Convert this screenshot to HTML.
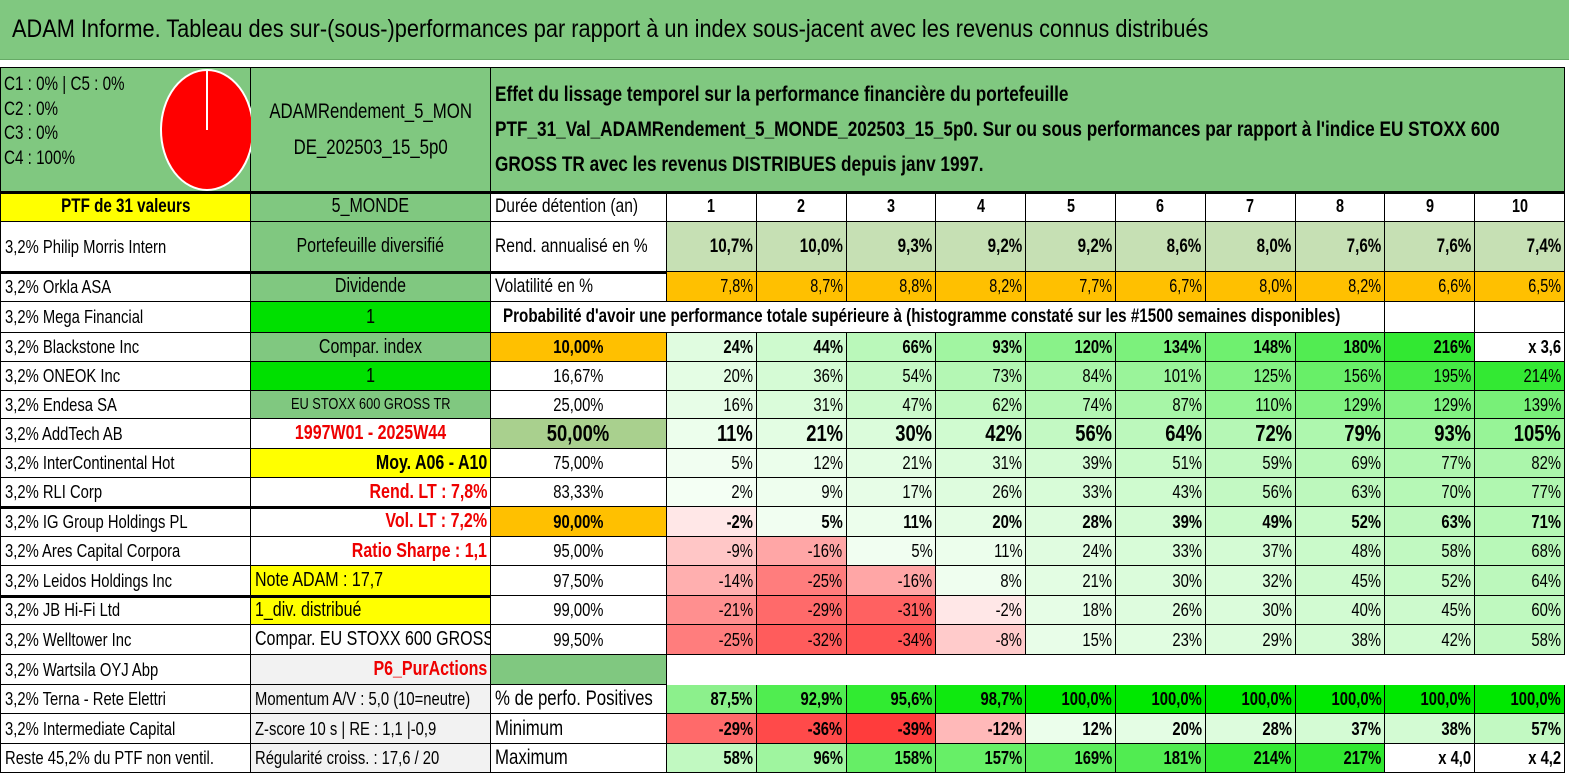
<!DOCTYPE html>
<html><head><meta charset="utf-8">
<style>
body{margin:0;width:1569px;height:782px;overflow:hidden;background:#fff;font-family:"Liberation Sans",sans-serif;position:relative}
.c{position:absolute;box-sizing:border-box;display:flex;align-items:center;white-space:nowrap;overflow:hidden;color:#000;font-size:15px}
.c span{display:inline-block;transform:scaleX(.8)}
.b{border-right:1px solid #000;border-bottom:1px solid #000}
.r{justify-content:flex-end;padding-right:3px}
.r span{transform-origin:right center}
.m{justify-content:center}
.m span{transform-origin:center center}
.l{justify-content:flex-start;padding-left:4px}
.l span{transform-origin:left center}
</style></head><body>
<div class="c l" style="left:0;top:0;width:1569px;height:60px;background:#80c880;font-size:25px;padding-left:12px;border-bottom:1px solid #6a6"><span style="transform:scaleX(.87)">ADAM Informe. Tableau des sur-(sous-)performances par rapport à un index sous-jacent avec les revenus connus distribués</span></div>
<div class="c b" style="left:0;top:67px;width:251px;height:125px;background:#80c880;border-left:1px solid #000;border-top:1px solid #000"></div>
<div style="position:absolute;left:4px;top:73px;font-size:19px;line-height:24.5px;transform:scaleX(.8);transform-origin:left top">C1 : 0% | C5 : 0%<br>C2 : 0%<br>C3 : 0%<br>C4 : 100%</div>
<svg style="position:absolute;left:150px;top:68px" width="110" height="124"><ellipse cx="57" cy="62" rx="46" ry="60" fill="#f00" stroke="#fff" stroke-width="2"/><line x1="57" y1="2" x2="57" y2="62" stroke="#fff" stroke-width="2"/></svg>
<div class="c b m" style="left:251px;top:67px;width:240px;height:125px;background:#80c880;font-size:21px;line-height:36px;border-top:1px solid #000;text-align:center"><span>ADAMRendement_5_MON<br>DE_202503_15_5p0</span></div>
<div class="c b l" style="left:491px;top:67px;width:1074px;height:125px;background:#80c880;font-size:21.5px;font-weight:bold;line-height:35px;border-top:1px solid #000"><span style="transform:scaleX(.8)">Effet du lissage temporel sur la performance financière du portefeuille<br>PTF_31_Val_ADAMRendement_5_MONDE_202503_15_5p0. Sur ou sous performances par rapport à l'indice EU STOXX 600<br>GROSS TR avec les revenus DISTRIBUES depuis janv 1997.</span></div>
<div id="grid"></div>
<script>
const rowsY=[192,222,272,302,333,362,391,419,449,478,507,537,566,596,625,655,685,714,744,773];
const colX=[0,251,491,667];
const years=['1','2','3','4','5','6','7','8','9','10'];
const holdings=['PTF de 31 valeurs','3,2% Philip Morris Intern','3,2% Orkla ASA','3,2% Mega Financial','3,2% Blackstone Inc','3,2% ONEOK Inc','3,2% Endesa SA','3,2% AddTech AB','3,2% InterContinental Hot','3,2% RLI Corp','3,2% IG Group Holdings PL','3,2% Ares Capital Corpora','3,2% Leidos Holdings Inc','3,2% JB Hi-Fi Ltd','3,2% Welltower Inc','3,2% Wartsila OYJ Abp','3,2% Terna - Rete Elettri','3,2% Intermediate Capital','Reste 45,2% du PTF non ventil.'];
const infoB=[['5_MONDE','#80c880','#000','m'],['Portefeuille diversifié','#80c880','#000','m'],['Dividende','#80c880','#000','m'],['1','#00e000','#000','m'],['Compar. index','#80c880','#000','m'],['1','#00e000','#000','m'],['EU STOXX 600 GROSS TR','#80c880','#000','m'],['1997W01 - 2025W44','#fff','#e00','m'],['Moy. A06 - A10','#ffff00','#000','r'],['Rend. LT : 7,8%','#fff','#e00','r'],['Vol. LT : 7,2%','#fff','#e00','r'],['Ratio Sharpe : 1,1','#fff','#e00','r'],['Note ADAM : 17,7','#ffff00','#000','l'],['1_div. distribué','#ffff00','#000','l'],['Compar. EU STOXX 600 GROSS TR','#fff','#000','l'],['P6_PurActions','#f2f2f2','#e00','r'],['Momentum A/V : 5,0 (10=neutre)','#f2f2f2','#000','l'],['Z-score 10 s | RE : 1,1 |-0,9','#f2f2f2','#000','l'],['Régularité croiss. : 17,6 / 20','#f2f2f2','#000','l']];
const rendement=[10.7,10.0,9.3,9.2,9.2,8.6,8.0,7.6,7.6,7.4];
const volatilite=[7.8,8.7,8.8,8.2,7.7,6.7,8.0,8.2,6.6,6.5];
const quantiles=['10,00%','16,67%','25,00%','50,00%','75,00%','83,33%','90,00%','95,00%','97,50%','99,00%','99,50%'];
const probs=[
[24,44,66,93,120,134,148,180,216,'x 3,6'],
[20,36,54,73,84,101,125,156,195,214],
[16,31,47,62,74,87,110,129,129,139],
[11,21,30,42,56,64,72,79,93,105],
[5,12,21,31,39,51,59,69,77,82],
[2,9,17,26,33,43,56,63,70,77],
[-2,5,11,20,28,39,49,52,63,71],
[-9,-16,5,11,24,33,37,48,58,68],
[-14,-25,-16,8,21,30,32,45,52,64],
[-21,-29,-31,-2,18,26,30,40,45,60],
[-25,-32,-34,-8,15,23,29,38,42,58]];
const positives=[87.5,92.9,95.6,98.7,100,100,100,100,100,100];
const minimum=[-29,-36,-39,-12,12,20,28,37,38,57];
const maximum=[58,96,158,157,169,181,214,217,'x 4,0','x 4,2'];
const W=89.8;
const g=document.getElementById('grid');
function cell(x,y,w,h,txt,cls,st,name){
 const d=document.createElement('div');
 d.className='c '+cls+' b';
 d.style.cssText=`left:${x}px;top:${y}px;width:${w}px;height:${h}px;`+(st||'');
 const s=document.createElement('span');s.textContent=txt;d.appendChild(s);
 
 
 g.appendChild(d);return d;}
function mix(a,b,t){return 'rgb('+a.map((v,i)=>Math.round(v+(b[i]-v)*t)).join(',')+')';}
function heat(v){if(typeof v!=='number')return '#fff';
 if(v<0)return mix([255,240,240],[255,60,60],Math.min(-v/39,1));
 return mix([246,255,246],[46,232,46],Math.min(v/220,1));}
function fmt1(v){return v.toFixed(1).replace('.',',')+'%';}
function fmtP(v){return typeof v==='number'?v+'%':v;}
function dx(i){return colX[3]+i*W;}
for(let r=0;r<holdings.length;r++){
 const y=rowsY[r],h=rowsY[r+1]-y;
 cell(0,y,251,h,holdings[r],r===0?'m':'l',(r===0?'background:#ffff00;font-weight:bold;font-size:19px;':'font-size:18.5px;')+'border-left:1px solid #000;','holding-label');
 const b=infoB[r];
 cell(251,y,240,h,b[0],b[3],`background:${b[1]};color:${b[2]};font-size:${r===6?16:(r>15?18.5:20)}px;`+(r===15||r===7||r>=8&&r<=11?'font-weight:bold;':''),'info-cell');
}
[192,272,507,596].forEach(y=>{const d=document.createElement('div');d.style.cssText=`position:absolute;left:0;top:${y-1}px;width:1565px;height:3px;background:#000`;


g.appendChild(d);});
cell(491,192,176,30,'Durée détention (an)','l','font-size:19.5px;','header-label');
years.forEach((t,i)=>cell(dx(i),192,W,30,t,'m','font-size:18px;font-weight:bold;','year-header'));
cell(491,222,176,50,'Rend. annualisé en %','l','font-size:19.5px;','rend-label');
rendement.forEach((v,i)=>cell(dx(i),222,W,50,fmt1(v),'r','background:#c6e0b4;font-size:19px;font-weight:bold;','rend-value'));
cell(491,272,176,30,'Volatilité en %','l','font-size:19.5px;','vol-label');
volatilite.forEach((v,i)=>cell(dx(i),272,W,30,fmt1(v),'r','background:#ffc000;font-size:18px;','vol-value'));
cell(491,302,dx(8)-491,31,"Probabilité d'avoir une performance totale supérieure à (histogramme constaté sur les #1500 semaines disponibles)",'l','font-size:19px;font-weight:bold;padding-left:12px;','prob-title');
cell(dx(8),302,W,31,'','m','','blank-cell');cell(dx(9),302,W,31,'','m','','blank-cell');
quantiles.forEach((q,r)=>{
 const y=rowsY[r+4],h=rowsY[r+5]-y;
 const big=(r===0||r===3||r===6);
 const bg=r===3?'#a9d08e':(big?'#ffc000':'#fff');
 cell(491,y,176,h,q,'m',`background:${bg};font-size:${r===3?23:18.5}px;`+(big?'font-weight:bold;':''),'quantile-label');
 probs[r].forEach((v,i)=>cell(dx(i),y,W,h,fmtP(v),'r',`background:${heat(v)};font-size:${r===3?23:18.5}px;`+(big?'font-weight:bold;':''),'prob-cell'));
});
cell(491,655,176,30,'','m','background:#80c880;','green-spacer');
cell(491,685,176,29,'% de perfo. Positives','l','font-size:21px;','positives-label');
positives.forEach((v,i)=>cell(dx(i),685,W,29,fmt1(v),'r',`background:${mix([140,240,140],[0,232,0],Math.max(0,(v-87.5)/12.5))};font-size:18.5px;font-weight:bold;`,'positives-cell'));
cell(491,714,176,30,'Minimum','l','font-size:21px;','minimum-label');
minimum.forEach((v,i)=>cell(dx(i),714,W,30,fmtP(v),'r',`background:${heat(v)};font-size:18.5px;font-weight:bold;`,'minimum-cell'));
cell(491,744,176,29,'Maximum','l','font-size:21px;','maximum-label');
maximum.forEach((v,i)=>cell(dx(i),744,W,29,fmtP(v),'r',`background:${heat(v)};font-size:18.5px;font-weight:bold;`,'maximum-cell'));
</script>
</body></html>
